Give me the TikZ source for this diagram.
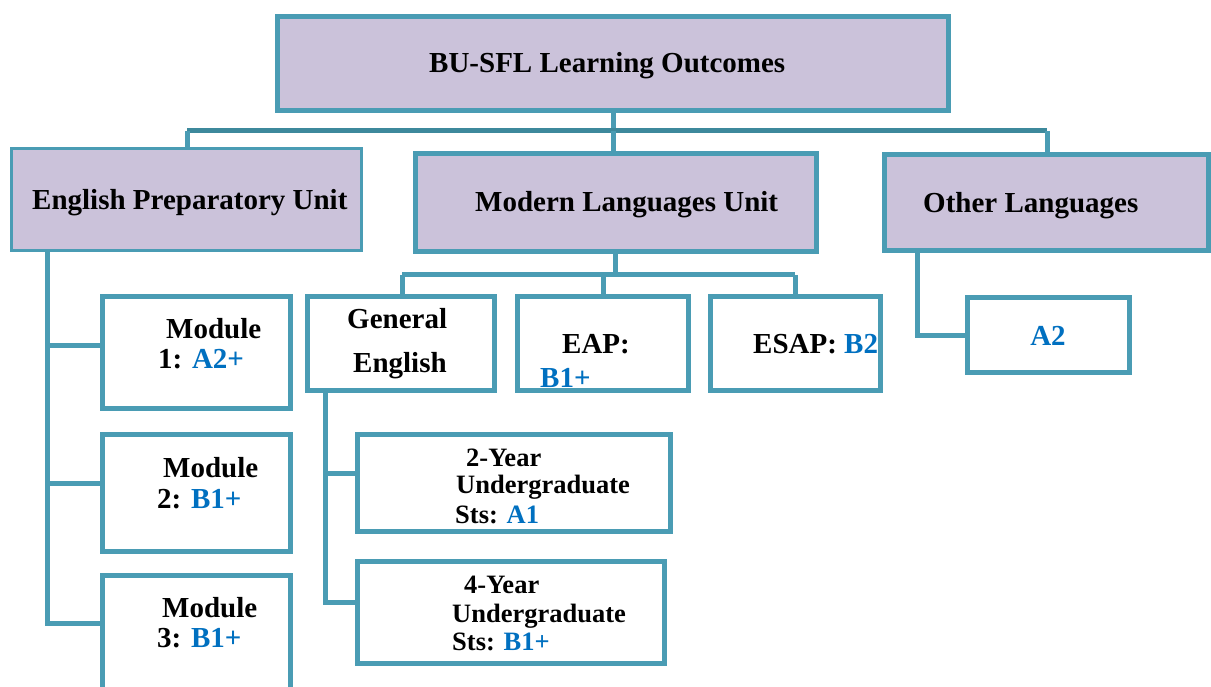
\documentclass[tikz,border=0pt]{standalone}
\usepackage{fontspec}
\setmainfont{Liberation Serif}
\definecolor{boxfill}{HTML}{CBC2DA}
\definecolor{teal1}{HTML}{4A9CB4}
\definecolor{teal2}{HTML}{3D899C}
\definecolor{lvl}{HTML}{0070C0}
\tikzset{
  box/.style={draw=teal1, line width=5pt, rectangle, inner sep=0pt, fill=white},
  pbox/.style={box, fill=boxfill},
  conn/.style={draw=teal1, line width=5pt},
  connd/.style={draw=teal2, line width=5pt},
  txt/.style={anchor=base west, inner sep=0pt, font=\fontsize{29}{30}\selectfont\bfseries},
  stxt/.style={anchor=base west, inner sep=0pt, font=\fontsize{26.5}{28}\selectfont\bfseries}
}
\begin{document}
\begin{tikzpicture}[x=1pt,y=-1pt]
\useasboundingbox (0,0) rectangle (1211,687);
% connectors first (under boxes)
\coordinate (j0) at (613,131);
\coordinate (jl) at (187,131);
\coordinate (jr) at (1047,131);
\coordinate (jm) at (615,275);
\coordinate (jgl) at (402,275);
\coordinate (jgr) at (795,275);
% boxes
\node[pbox, minimum width=671pt, minimum height=94pt] (top) at (612.5,64) {};
\node[pbox, line width=3pt, minimum width=350pt, minimum height=102pt] (epu) at (186,200) {};
\node[pbox, minimum width=401pt, minimum height=98pt] (mlu) at (615.5,203) {};
\node[pbox, minimum width=324pt, minimum height=96pt] (ol) at (1046,203) {};
\node[box, minimum width=188pt, minimum height=111pt] (m1) at (196,352.5) {};
\node[box, minimum width=188pt, minimum height=117pt] (m2) at (196,492.5) {};
\node[box, minimum width=188pt, minimum height=115pt] (m3) at (196,632.5) {};
\node[box, minimum width=187pt, minimum height=93pt] (ge) at (400.5,343.5) {};
\node[box, minimum width=171pt, minimum height=93pt] (eap) at (602.5,343.5) {};
\node[box, minimum width=170pt, minimum height=93pt] (esap) at (795,343.5) {};
\node[box, minimum width=162pt, minimum height=74pt] (a2) at (1048,335) {};
\node[box, minimum width=313pt, minimum height=97pt] (y2) at (513.5,482.5) {};
\node[box, minimum width=307pt, minimum height=102pt] (y4) at (510.5,612) {};
% connectors
\draw[conn] (top.south -| j0) -- (j0);
\draw[connd] (jl) -- (jr);
\draw[conn] (jl |- jl) -- (jl |- epu.north);
\draw[conn] (j0) -- (j0 |- mlu.north);
\draw[conn] (jr) -- (jr |- ol.north);
% English Preparatory Unit branch
\draw[conn] (47,0 |- epu.south) -- (47,623) -- (m3.west |- 0,623);
\draw[conn] (47,345) -- (m1.west |- 0,345);
\draw[conn] (47,483) -- (m2.west |- 0,483);
% Modern Languages Unit branch
\draw[conn] (jm |- mlu.south) -- (jm);
\draw[conn] (jgl) -- (jgr);
\draw[conn] (jgl) -- (jgl |- ge.north);
\draw[conn] (603,275) -- (603,0 |- eap.north);
\draw[conn] (jgr) -- (jgr |- esap.north);
% General English branch
\draw[conn] (325,0 |- ge.south) -- (325,602) -- (y4.west |- 0,602);
\draw[conn] (325,473) -- (y2.west |- 0,473);
% Other Languages branch
\draw[conn] (917,0 |- ol.south) -- (917,335) -- (a2.west);
% texts
\node[txt] (ttop) at (429,73) {BU-SFL Learning Outcomes};
\node[txt] (tepu) at (32,210) {English Preparatory Unit};
\node[txt] (tmlu) at (475,212) {Modern Languages Unit};
\node[txt] (tol) at (923,213) {Other Languages};
\node[txt] (tge1) at (347,328) {General};
\node[txt] (tge2) at (353,372) {English};
\node[txt] (teap1) at (562,353) {EAP:};
\node[txt, text=lvl] (teap2) at (540,387) {B1+};
\node[txt] (tesap) at (753,353) {ESAP: \textcolor{lvl}{B2}};
\node[txt, text=lvl, anchor=base] (ta2) at (1048,345) {A2};
\node[txt] (tm1a) at (166,338) {Module};
\node[txt] (tm1b) at (158,368) {1: \textcolor{lvl}{A2+}};
\node[txt] (tm2a) at (163,477) {Module};
\node[txt] (tm2b) at (157,508) {2: \textcolor{lvl}{B1+}};
\node[txt] (tm3a) at (162,617) {Module};
\node[txt] (tm3b) at (157,647) {3: \textcolor{lvl}{B1+}};
\node[stxt] (ty2a) at (466,466) {2-Year};
\node[stxt] (ty2b) at (456,493) {Undergraduate};
\node[stxt] (ty2c) at (455,523) {Sts: \textcolor{lvl}{A1}};
\node[stxt] (ty4a) at (464,593) {4-Year};
\node[stxt] (ty4b) at (452,622) {Undergraduate};
\node[stxt] (ty4c) at (452,650) {Sts: \textcolor{lvl}{B1+}};
\end{tikzpicture}
\end{document}
